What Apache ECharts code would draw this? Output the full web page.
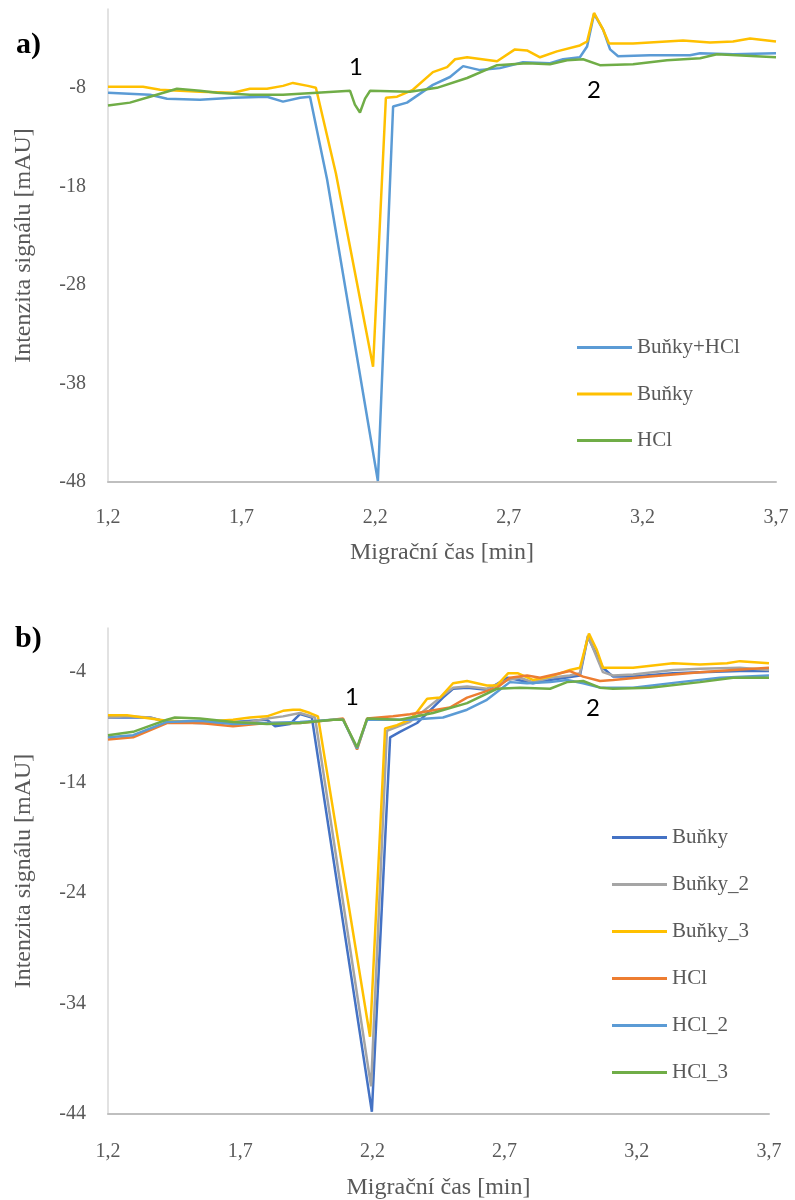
<!DOCTYPE html>
<html><head><meta charset="utf-8">
<script src="https://cdn.jsdelivr.net/npm/echarts@6/dist/echarts.min.js"></script>
<style>html,body{margin:0;padding:0;background:#fff;} #a,#b{width:795px;height:600px;}</style>
</head><body><div id="a"></div><div id="b"></div>
<script>
// ---------- Chart a) ----------
const seriesNamesA = ['Buňky+HCl', 'Buňky', 'HCl'];
const timeA_cellsHCl = [1.20,1.357,1.421,1.544,1.668,1.795,1.855,1.919,1.956,2.020,2.210,2.267,2.319,2.416,2.480,2.529,2.592,2.667,2.753,2.854,2.903,2.966,2.993,3.019,3.053,3.079,3.109,3.228,3.378,3.416,3.539,3.70];
const valA_cellsHCl  = [-8.5,-8.7,-9.1,-9.2,-9.0,-8.9,-9.4,-9.0,-8.9,-17.3,-47.9,-9.9,-9.5,-7.7,-6.9,-5.8,-6.2,-6.0,-5.4,-5.5,-5.1,-4.9,-3.8,-0.5,-2.1,-4.1,-4.8,-4.7,-4.7,-4.5,-4.6,-4.5];
const timeA_cells = [1.20,1.331,1.395,1.544,1.668,1.731,1.795,1.855,1.892,1.948,1.978,2.053,2.192,2.240,2.282,2.341,2.416,2.469,2.499,2.544,2.656,2.723,2.768,2.817,2.880,2.966,2.993,3.019,3.053,3.075,3.165,3.352,3.453,3.539,3.603,3.70];
const valA_cells  = [-7.9,-7.9,-8.2,-8.4,-8.5,-8.1,-8.1,-7.8,-7.5,-7.8,-8.0,-16.7,-36.3,-9.0,-8.9,-8.2,-6.4,-5.9,-5.1,-4.9,-5.3,-4.1,-4.2,-4.9,-4.3,-3.7,-3.3,-0.4,-2.1,-3.5,-3.5,-3.2,-3.4,-3.3,-3.0,-3.3];
const timeA_hcl = [1.20,1.282,1.357,1.458,1.544,1.608,1.731,1.855,1.982,2.106,2.124,2.143,2.162,2.181,2.330,2.431,2.544,2.656,2.768,2.854,2.918,2.978,3.041,3.165,3.292,3.416,3.479,3.70];
const valA_hcl  = [-9.8,-9.5,-8.9,-8.1,-8.3,-8.5,-8.7,-8.7,-8.5,-8.3,-9.7,-10.5,-9.1,-8.3,-8.4,-8.0,-7.0,-5.7,-5.5,-5.6,-5.2,-5.1,-5.7,-5.6,-5.2,-5.0,-4.6,-4.9];
const peakLabelsA = ['1', '2'];
const peakA_t = [2.128, 3.019];
const peakA_v = [-5.9, -8.2];

// ---------- Chart b) ----------
const seriesNamesB = ['Buňky', 'Buňky_2', 'Buňky_3', 'HCl', 'HCl_2', 'HCl_3'];
const timeB_cells1 = [1.20,1.359,1.423,1.548,1.673,1.801,1.832,1.888,1.926,1.971,2.198,2.267,2.304,2.369,2.429,2.467,2.505,2.558,2.633,2.713,2.807,2.872,2.985,3.015,3.072,3.110,3.186,3.337,3.439,3.590,3.70];
const valB_cells1  = [-8.1,-8.1,-8.5,-8.6,-8.5,-8.3,-8.9,-8.7,-7.8,-8.1,-43.8,-9.9,-9.4,-8.6,-7.2,-6.3,-5.5,-5.4,-5.6,-4.5,-5.0,-4.7,-4.3,-0.8,-3.6,-4.4,-4.4,-4.1,-4.0,-3.9,-3.9];
const timeB_cells2 = [1.20,1.272,1.359,1.423,1.548,1.673,1.737,1.801,1.862,1.926,1.983,2.195,2.255,2.342,2.467,2.505,2.558,2.633,2.713,2.758,2.807,2.872,2.947,2.985,3.015,3.072,3.110,3.186,3.337,3.439,3.590,3.70];
const valB_cells2  = [-8.1,-8.0,-8.1,-8.5,-8.6,-8.5,-8.5,-8.2,-8.0,-7.7,-8.1,-41.5,-9.3,-8.5,-6.1,-5.4,-5.3,-5.5,-4.7,-4.5,-4.9,-4.5,-4.3,-4.1,-0.7,-4.0,-4.3,-4.2,-3.8,-3.7,-3.6,-3.8];
const timeB_cells3 = [1.20,1.272,1.359,1.423,1.548,1.673,1.737,1.801,1.862,1.900,1.926,1.964,1.994,2.191,2.248,2.293,2.342,2.369,2.407,2.456,2.505,2.558,2.633,2.671,2.713,2.751,2.807,2.872,2.947,2.985,3.019,3.049,3.072,3.186,3.337,3.439,3.541,3.590,3.70];
const valB_cells3  = [-7.9,-7.9,-8.2,-8.4,-8.5,-8.3,-8.1,-8.0,-7.5,-7.4,-7.4,-7.7,-8.0,-37.0,-9.1,-8.8,-8.3,-7.6,-6.4,-6.3,-5.0,-4.8,-5.2,-5.2,-4.1,-4.1,-4.7,-4.4,-3.8,-3.6,-0.5,-2.0,-3.6,-3.6,-3.2,-3.3,-3.2,-3.0,-3.2];
const timeB_hcl1 = [1.20,1.295,1.423,1.548,1.673,1.801,1.926,2.051,2.089,2.142,2.180,2.278,2.342,2.493,2.558,2.671,2.720,2.785,2.834,2.947,2.997,3.061,3.110,3.250,3.439,3.564,3.70];
const valB_hcl1  = [-10.1,-9.9,-8.6,-8.6,-8.9,-8.6,-8.6,-8.3,-8.2,-11.0,-8.2,-8.0,-7.8,-7.2,-6.3,-5.4,-4.5,-4.3,-4.5,-3.9,-4.4,-4.8,-4.7,-4.4,-4.0,-3.8,-3.6];
const timeB_hcl2 = [1.20,1.295,1.423,1.548,1.673,1.801,1.926,2.051,2.089,2.142,2.180,2.342,2.467,2.558,2.633,2.671,2.720,2.785,2.872,2.936,2.997,3.061,3.186,3.363,3.515,3.70];
const valB_hcl2  = [-9.9,-9.7,-8.5,-8.4,-8.7,-8.6,-8.5,-8.3,-8.3,-10.9,-8.3,-8.3,-8.1,-7.4,-6.5,-5.8,-4.9,-5.0,-4.9,-4.7,-5.0,-5.4,-5.4,-4.9,-4.5,-4.3];
const timeB_hcl3 = [1.20,1.295,1.423,1.453,1.548,1.673,1.801,1.926,2.051,2.089,2.142,2.180,2.304,2.429,2.558,2.671,2.758,2.872,2.936,2.997,3.061,3.110,3.250,3.439,3.564,3.70];
const valB_hcl3  = [-9.7,-9.4,-8.3,-8.1,-8.2,-8.5,-8.7,-8.6,-8.3,-8.3,-10.8,-8.2,-8.3,-7.7,-6.8,-5.5,-5.4,-5.5,-4.9,-4.8,-5.4,-5.5,-5.4,-4.9,-4.5,-4.5];
const peakLabelsB = ['1', '2'];
const peakB_t = [2.123, 3.034];
const peakB_v = [-6.3, -7.3];

// ---------- styling / building ----------
const SERIF = '"Liberation Serif", "Times New Roman", serif';
const GREY = '#595959';
function zip(t, v) { return t.map((x, i) => [x, v[i]]); }

function xAxisCfg(margin, gap) {
  return {
    type: 'value', min: 1.2, max: 3.7, interval: 0.5,
    axisLine: { show: true, onZero: false, lineStyle: { color: '#BFBFBF', width: 2 } },
    axisTick: { show: false }, splitLine: { show: false },
    axisLabel: { color: GREY, fontFamily: SERIF, fontSize: 20, margin: margin,
      formatter: v => v.toFixed(1).replace('.', ',') },
    name: 'Migrační čas [min]', nameLocation: 'middle', nameGap: gap,
    nameTextStyle: { color: GREY, fontFamily: SERIF, fontSize: 24 }
  };
}
function yAxisCfg(min) {
  return {
    type: 'value', min: min, max: 0, interval: 10,
    axisLine: { show: true, lineStyle: { color: '#D9D9D9', width: 1.5 } },
    axisTick: { show: false }, splitLine: { show: false },
    axisLabel: { color: GREY, fontFamily: SERIF, fontSize: 20, margin: 22,
      formatter: v => (v === 0 ? '' : String(v)) },
    name: 'Intenzita signálu [mAU]', nameLocation: 'middle', nameGap: 72,
    nameTextStyle: { color: GREY, fontFamily: SERIF, fontSize: 24 }
  };
}
function lineSeries(name, color, t, v) {
  return { name: name, type: 'line', data: zip(t, v), showSymbol: false, symbol: 'none',
    lineStyle: { width: 2.5, color: color }, itemStyle: { color: color }, z: 2 };
}
function peakMarks(labels, t, v) {
  return {
    symbol: 'circle', symbolSize: 1, silent: true,
    itemStyle: { color: 'rgba(0,0,0,0)' },
    label: { show: true, position: 'inside', formatter: p => p.name,
      fontFamily: 'Lato, "Open Sans", sans-serif', fontSize: 24, color: '#000' },
    data: labels.map((l, i) => ({ name: l, coord: [t[i], v[i]] }))
  };
}
function legendCfg(left, top, gap, names) {
  return { orient: 'vertical', left: left, top: top, padding: 0, itemWidth: 55, itemHeight: 3,
    itemGap: gap, icon: 'rect', data: names,
    textStyle: { fontFamily: SERIF, fontSize: 21, color: GREY, lineHeight: 20 } };
}

const chartA = echarts.init(document.getElementById('a'));
const colorsA = ['#5B9BD5', '#FFC000', '#70AD47'];
const sA = [
  lineSeries(seriesNamesA[0], colorsA[0], timeA_cellsHCl, valA_cellsHCl),
  lineSeries(seriesNamesA[1], colorsA[1], timeA_cells, valA_cells),
  lineSeries(seriesNamesA[2], colorsA[2], timeA_hcl, valA_hcl)
];
sA[0].markPoint = peakMarks(peakLabelsA, peakA_t, peakA_v);
chartA.setOption({
  animation: false,
  grid: { left: 108, right: 19, top: 9, bottom: 118, outerBoundsMode: 'none', containLabel: false },
  xAxis: xAxisCfg(26, 59),
  yAxis: yAxisCfg(-48),
  legend: legendCfg(577, 337, 25.5, seriesNamesA),
  graphic: [{ type: 'text', left: 16, top: 30, style: { text: 'a)', font: 'bold 30px "Liberation Serif"', fill: '#000' } }],
  series: sA
});

const chartB = echarts.init(document.getElementById('b'));
const colorsB = ['#4472C4', '#A5A5A5', '#FFC000', '#ED7D31', '#5B9BD5', '#70AD47'];
const sB = [
  lineSeries(seriesNamesB[0], colorsB[0], timeB_cells1, valB_cells1),
  lineSeries(seriesNamesB[1], colorsB[1], timeB_cells2, valB_cells2),
  lineSeries(seriesNamesB[2], colorsB[2], timeB_cells3, valB_cells3),
  lineSeries(seriesNamesB[3], colorsB[3], timeB_hcl1, valB_hcl1),
  lineSeries(seriesNamesB[4], colorsB[4], timeB_hcl2, valB_hcl2),
  lineSeries(seriesNamesB[5], colorsB[5], timeB_hcl3, valB_hcl3)
];
sB[0].markPoint = peakMarks(peakLabelsB, peakB_t, peakB_v);
chartB.setOption({
  animation: false,
  grid: { left: 108, right: 26, top: 28, bottom: 86, outerBoundsMode: 'none', containLabel: false },
  xAxis: xAxisCfg(28, 62),
  yAxis: yAxisCfg(-44),
  legend: legendCfg(612, 227, 26, seriesNamesB),
  graphic: [{ type: 'text', left: 15, top: 24, style: { text: 'b)', font: 'bold 30px "Liberation Serif"', fill: '#000' } }],
  series: sB
});
</script>
</body></html>
